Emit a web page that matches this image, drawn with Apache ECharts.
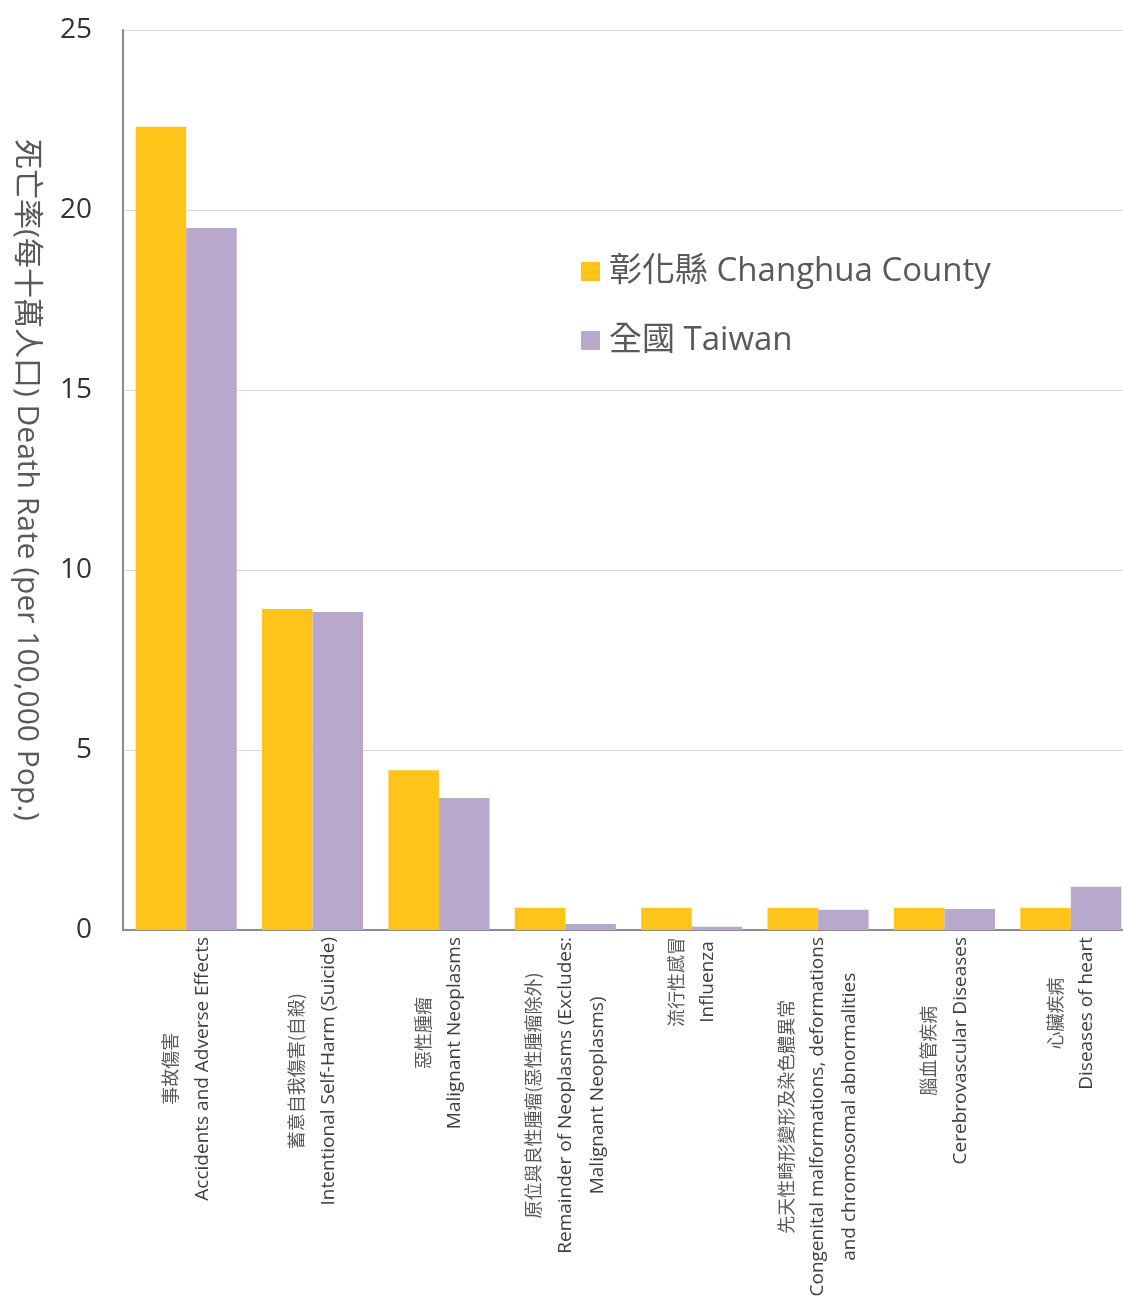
<!DOCTYPE html>
<html>
<head>
<meta charset="utf-8">
<script src="https://cdn.jsdelivr.net/npm/echarts@6/dist/echarts.min.js"></script>
<style>
html,body{margin:0;padding:0;background:#fff;}
#main{width:1123px;height:1303px;}
</style>
</head>
<body>
<div id="main"></div>
<script>
var categoriesZh = ['事故傷害','蓄意自我傷害(自殺)','惡性腫瘤','原位與良性腫瘤(惡性腫瘤除外)','流行性感冒','先天性畸形變形及染色體異常','腦血管疾病','心臟疾病'];
var categoriesEn = [
  ['Accidents and Adverse Effects'],
  ['Intentional Self-Harm (Suicide)'],
  ['Malignant Neoplasms'],
  ['Remainder of Neoplasms (Excludes:','Malignant Neoplasms)'],
  ['Influenza'],
  ['Congenital malformations, deformations','and chromosomal abnormalities'],
  ['Cerebrovascular Diseases'],
  ['Diseases of heart']
];
var changhua = [22.31, 8.92, 4.44, 0.62, 0.62, 0.62, 0.62, 0.62];
var taiwan = [19.5, 8.83, 3.67, 0.17, 0.09, 0.56, 0.58, 1.2];
var seriesNames = ['彰化縣 Changhua County', '全國 Taiwan'];
var yTicks = [0, 5, 10, 15, 20, 25];

var categories = categoriesZh.map(function(z, i){ return i; });

var chart = echarts.init(document.getElementById('main'));
chart.setOption({
  animation: false,
  backgroundColor: '#ffffff',
  grid: { left: 123, right: -11, top: 30, bottom: 373, containLabel: false, outerBoundsMode: 'none' },
  legend: {
    orient: 'vertical',
    left: 576,
    top: 250,
    itemWidth: 19,
    itemHeight: 19,
    itemGap: 36,
    icon: 'rect',
    textStyle: { fontSize: 33, color: '#595959', fontFamily: '"Open Sans","Noto Sans CJK TC",sans-serif', padding: [0,0,0,4] },
    data: seriesNames
  },
  xAxis: {
    type: 'category',
    data: categories,
    axisLine: { show: true, lineStyle: { color: '#8c8c8c', width: 2 } },
    axisTick: { show: false },
    axisLabel: {
      interval: 0,
      rotate: 90,
      margin: 7,
      formatter: function(v){
        var i = +v;
        var lines = ['{z|' + categoriesZh[i] + '}'];
        categoriesEn[i].forEach(function(l){ lines.push('{e|' + l + '}'); });
        return lines.join('\n');
      },
      rich: {
        z: { align: 'center', fontSize: 18, color: '#595959', lineHeight: 32, fontFamily: '"Noto Sans CJK TC",sans-serif' },
        e: { align: 'center', fontSize: 19, color: '#404040', lineHeight: 32, fontFamily: '"Open Sans","Noto Sans CJK TC",sans-serif', letterSpacing: -0.2 }
      }
    }
  },
  yAxis: {
    type: 'value',
    min: 0,
    max: 25,
    interval: 5,
    name: '死亡率(每十萬人口) Death Rate (per 100,000 Pop.)',
    nameLocation: 'middle',
    nameRotate: -90,
    nameGap: 81,
    nameTextStyle: { fontSize: 30, color: '#595959', fontFamily: '"Open Sans","Noto Sans CJK TC",sans-serif' },
    axisLine: { show: true, lineStyle: { color: '#8c8c8c', width: 2 } },
    axisTick: { show: false },
    splitLine: { show: true, lineStyle: { color: '#d9d9d9', width: 1 } },
    axisLabel: {
      margin: 31,
      fontSize: 28,
      color: '#333333',
      fontFamily: '"Open Sans",sans-serif',
      formatter: function(v){ return yTicks.indexOf(v) >= 0 ? String(v) : ''; }
    }
  },
  series: [
    {
      name: seriesNames[0],
      type: 'bar',
      data: changhua,
      barWidth: '40%',
      barGap: '0%',
      itemStyle: { color: '#FFC419' }
    },
    {
      name: seriesNames[1],
      type: 'bar',
      data: taiwan,
      barWidth: '40%',
      barGap: '0%',
      itemStyle: { color: '#B8A8CB' }
    }
  ]
});
</script>
</body>
</html>
